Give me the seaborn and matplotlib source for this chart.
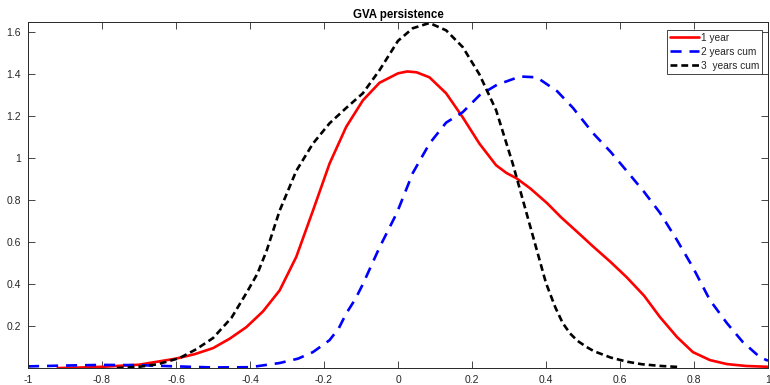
import matplotlib
matplotlib.use("Agg")
import matplotlib.pyplot as plt
import seaborn as sns
import pandas as pd

# ---- data ----
x_1y = [-0.92, -0.85, -0.8, -0.7, -0.6, -0.55, -0.5, -0.455, -0.41, -0.365, -0.32, -0.275,
        -0.23, -0.185, -0.14, -0.095, -0.05, 0.0, 0.025, 0.05, 0.085, 0.13, 0.175, 0.22,
        0.265, 0.293, 0.32, 0.357, 0.403, 0.44, 0.49, 0.527, 0.575, 0.618, 0.665, 0.708,
        0.754, 0.797, 0.843, 0.889, 0.94, 1.0]
y_1y = [0.0, 0.003, 0.006, 0.016, 0.045, 0.066, 0.095, 0.14, 0.195, 0.27, 0.37, 0.53,
        0.75, 0.975, 1.15, 1.276, 1.36, 1.405, 1.414, 1.41, 1.386, 1.31, 1.195, 1.07,
        0.967, 0.93, 0.905, 0.857, 0.786, 0.72, 0.64, 0.58, 0.505, 0.433, 0.345, 0.243,
        0.148, 0.076, 0.038, 0.019, 0.01, 0.006]

x_2y = [-1.0, -0.9, -0.8, -0.7, -0.6, -0.5, -0.4, -0.32, -0.27, -0.23, -0.185, -0.16,
        -0.14, -0.115, -0.095, -0.05, -0.003, 0.04, 0.085, 0.13, 0.175, 0.22, 0.267, 0.33,
        0.375, 0.43, 0.473, 0.527, 0.575, 0.618, 0.665, 0.708, 0.754, 0.797, 0.843, 0.889,
        0.932, 0.978, 1.0]
y_2y = [0.008, 0.012, 0.015, 0.014, 0.008, 0.003, 0.004, 0.024, 0.045, 0.076, 0.133, 0.19,
        0.26, 0.33, 0.40, 0.575, 0.74, 0.93, 1.07, 1.17, 1.22, 1.30, 1.35, 1.39,
        1.386, 1.32, 1.24, 1.12, 1.03, 0.94, 0.84, 0.74, 0.61, 0.48, 0.324, 0.214,
        0.124, 0.052, 0.035]

x_3y = [-0.76, -0.7, -0.65, -0.59, -0.545, -0.5, -0.45, -0.41, -0.38, -0.355, -0.32,
        -0.275, -0.23, -0.185, -0.14, -0.095, -0.05, 0.0, 0.04, 0.085, 0.13, 0.175, 0.22,
        0.265, 0.31, 0.355, 0.40, 0.425, 0.445, 0.465, 0.485, 0.51, 0.53, 0.575, 0.62,
        0.66, 0.71, 0.76]
y_3y = [0.0, 0.006, 0.018, 0.048, 0.09, 0.143, 0.24, 0.357, 0.45, 0.56, 0.75,
        0.94, 1.07, 1.167, 1.24, 1.31, 1.42, 1.56, 1.62, 1.645, 1.61, 1.53, 1.40,
        1.23, 0.975, 0.69, 0.405, 0.29, 0.215, 0.165, 0.13, 0.10, 0.08, 0.05, 0.03,
        0.018, 0.01, 0.005]

labels = ["1 year", "2 years cum", "3  years cum"]
title = "GVA persistence"
xticks = [-1, -0.8, -0.6, -0.4, -0.2, 0, 0.2, 0.4, 0.6, 0.8, 1]
xticklabels = ["-1", "-0.8", "-0.6", "-0.4", "-0.2", "0", "0.2", "0.4", "0.6", "0.8", "1"]
yticks = [0.2, 0.4, 0.6, 0.8, 1.0, 1.2, 1.4, 1.6]
yticklabels = ["0.2", "0.4", "0.6", "0.8", "1", "1.2", "1.4", "1.6"]

# ---- plotting ----
sns.set_theme(style="white")
plt.rcParams["font.family"] = ["Liberation Sans", "DejaVu Sans"]

fig = plt.figure(figsize=(7.7, 3.85), dpi=100)
ax = fig.add_axes([0.0364, 0.044, 0.9610, 0.899])

dark = "#262626"
df1 = pd.DataFrame({"x": x_1y, "y": y_1y})
df2 = pd.DataFrame({"x": x_2y, "y": y_2y})
df3 = pd.DataFrame({"x": x_3y, "y": y_3y})

sns.lineplot(data=df1, x="x", y="y", ax=ax, color="#ff0000", lw=1.9, sort=False,
             label=labels[0], estimator=None)
ax.lines[-1].set_solid_joinstyle("round")
sns.lineplot(data=df2, x="x", y="y", ax=ax, color="#0000ff", lw=1.9, sort=False,
             label=labels[1], estimator=None)
ax.lines[-1].set_dashes((4.2, 3.0))
sns.lineplot(data=df3, x="x", y="y", ax=ax, color="#000000", lw=1.9, sort=False,
             label=labels[2], estimator=None)
ax.lines[-1].set_dashes((2.6, 1.5))

ax.set_xlim(-1, 1)
ax.set_ylim(0, 1.65)
ax.set_xticks(xticks)
ax.set_xticklabels(xticklabels)
ax.set_yticks(yticks)
ax.set_yticklabels(yticklabels)
ax.set_xlabel("")
ax.set_ylabel("")
ax.tick_params(direction="in", length=5, width=0.6, colors=dark, labelsize=7.5,
               top=True, right=True, bottom=True, left=True, pad=5)
for s in ax.spines.values():
    s.set_visible(True)
    s.set_color(dark)
    s.set_linewidth(0.7)

ax.set_title(title, fontsize=8.3, fontweight="bold", color="#000000", pad=3)

leg = ax.legend(loc="upper right", bbox_to_anchor=(0.992, 0.977), fontsize=7.3,
                handlelength=2.9, handletextpad=0.15, borderpad=0.3, labelspacing=0.38,
                borderaxespad=0.0, fancybox=False, framealpha=1, edgecolor="#262626")
leg.get_frame().set_linewidth(0.6)

fig.savefig("out.png", dpi=100)
